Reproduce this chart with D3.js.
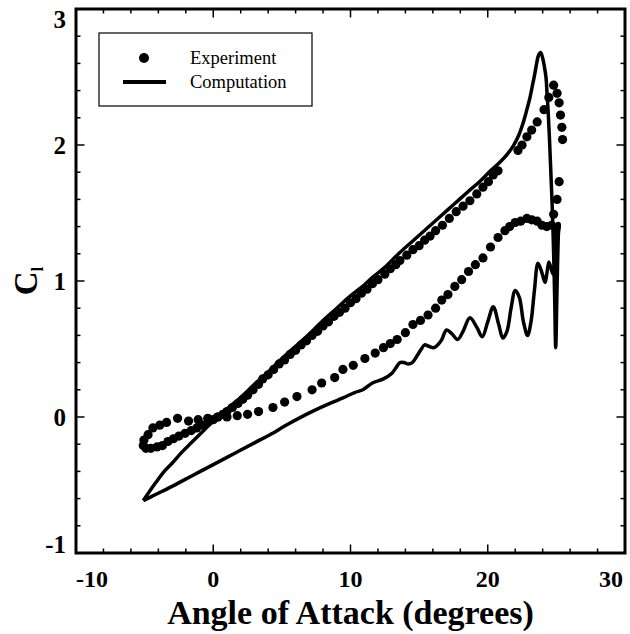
<!DOCTYPE html>
<html>
<head>
<meta charset="utf-8">
<script src="https://cdn.jsdelivr.net/npm/d3@7/dist/d3.min.js"></script>
<style>
  html, body { margin: 0; padding: 0; background: #fff; }
  svg { display: block; }
  text { font-family: "Liberation Serif", "Times New Roman", serif; fill: #000; }
</style>
</head>
<body>
<svg id="chart" width="630" height="634"></svg>
<script>
// Experimental lift coefficient, upstroke (increasing angle of attack)
const expUpAlpha = [-4.55, -4.1, -3.7, -3.3, -2.9, -2.5, -2.05, -1.6, -1.2, -0.8, -0.4, 0.0, 0.35, 0.7, 1.0, 1.4, 1.8, 2.15, 2.5, 2.9, 3.3, 3.6, 4.0, 4.4, 4.8, 5.2, 5.6, 6.0, 6.4, 6.8, 7.2, 7.6, 8.0, 8.4, 8.8, 9.2, 9.6, 10.0, 10.4, 10.8, 11.2, 11.6, 12.0, 12.5, 12.9, 13.3, 13.6, 14.1, 14.55, 15.0, 15.4, 15.8, 16.2, 16.7, 17.2, 17.7, 18.2, 18.7, 19.2, 19.65, 20.05, 20.4, 20.75, 22.2, 22.5, 22.85, 23.2, 23.6, 24.1, 24.45, 24.8];
const expUpCl    = [-0.23, -0.22, -0.21, -0.18, -0.16, -0.14, -0.12, -0.10, -0.08, -0.06, -0.04, -0.02, 0.00, 0.02, 0.04, 0.07, 0.10, 0.13, 0.16, 0.20, 0.24, 0.28, 0.31, 0.35, 0.39, 0.42, 0.46, 0.49, 0.53, 0.56, 0.60, 0.63, 0.67, 0.70, 0.74, 0.77, 0.80, 0.84, 0.87, 0.91, 0.94, 0.98, 1.01, 1.05, 1.09, 1.12, 1.15, 1.19, 1.23, 1.26, 1.30, 1.33, 1.37, 1.41, 1.46, 1.51, 1.55, 1.59, 1.64, 1.69, 1.73, 1.78, 1.81, 1.96, 2.00, 2.06, 2.11, 2.17, 2.26, 2.35, 2.44];

// Experimental lift coefficient, downstroke (decreasing angle of attack)
const expDownAlpha = [25.05, 25.2, 25.3, 25.4, 25.45, 25.2, 25.05, 24.8, 24.65, 24.3, 23.95, 23.6, 23.2, 22.85, 22.4, 22.0, 21.6, 21.25, 20.75, 20.2, 19.65, 19.1, 18.6, 18.1, 17.6, 17.1, 16.65, 16.2, 15.65, 15.1, 14.55, 14.0, 13.4, 12.9, 12.4, 11.8, 11.05, 10.2, 9.45, 8.85, 7.9, 7.2, 6.1, 5.2, 4.35, 3.3, 2.5, 1.75, 1.0, 0.3, -0.4, -1.1, -1.8, -2.6, -3.4, -3.9, -4.4, -4.75, -5.05, -5.1, -4.9];
const expDownCl    = [2.38, 2.31, 2.22, 2.13, 2.04, 1.73, 1.60, 1.49, 1.41, 1.40, 1.41, 1.44, 1.45, 1.46, 1.44, 1.43, 1.40, 1.37, 1.32, 1.25, 1.17, 1.12, 1.07, 1.01, 0.96, 0.90, 0.86, 0.80, 0.75, 0.71, 0.68, 0.62, 0.57, 0.54, 0.51, 0.47, 0.43, 0.38, 0.35, 0.29, 0.25, 0.20, 0.15, 0.11, 0.07, 0.04, 0.02, 0.01, 0.00, 0.00, -0.01, -0.02, -0.03, -0.01, -0.04, -0.06, -0.08, -0.13, -0.17, -0.21, -0.23];

// Computed lift coefficient over one pitching cycle
const compAlpha = [-5.1, -4.6, -4.1, -3.66, -3.0, -2.3, -1.6, -0.9, -0.2, 0.35, 1.0, 1.95, 3.0, 4.0, 5.0, 6.0, 7.0, 8.0, 9.0, 10.0, 11.0, 11.64, 12.5, 13.6, 14.6, 15.6, 16.6, 17.6, 18.6, 19.4, 20.2, 20.9, 21.4, 21.84, 22.25, 22.57, 22.85, 23.08, 23.3, 23.44, 23.58, 23.7, 23.85, 24.0, 24.12, 24.24, 24.32, 24.4, 24.5, 24.6, 24.7, 24.8, 24.88, 24.95, 25.05, 25.15, 25.2, 25.05, 24.95, 24.9, 24.75, 24.46, 24.3, 24.17, 23.95, 23.66, 23.4, 23.15, 22.9, 22.6, 22.3, 22.0, 21.7, 21.4, 21.1, 20.8, 20.4, 20.0, 19.6, 19.2, 18.7, 18.2, 17.8, 17.4, 17.0, 16.6, 16.1, 15.7, 15.4, 15.1, 14.85, 14.5, 14.2, 13.9, 13.6, 13.3, 13.0, 12.4, 11.6, 10.9, 10.3, 9.45, 8.5, 7.0, 5.5, 4.13, 3.0, 1.5, 0.0, -1.5, -3.0, -4.2, -5.1];
const compCl    = [-0.615, -0.54, -0.47, -0.41, -0.34, -0.26, -0.19, -0.12, -0.05, 0.00, 0.06, 0.14, 0.24, 0.33, 0.43, 0.52, 0.61, 0.71, 0.80, 0.89, 0.97, 1.03, 1.10, 1.21, 1.30, 1.39, 1.48, 1.57, 1.66, 1.73, 1.81, 1.875, 1.93, 1.99, 2.07, 2.16, 2.26, 2.35, 2.46, 2.53, 2.61, 2.66, 2.68, 2.64, 2.58, 2.50, 2.38, 2.25, 2.04, 1.79, 1.54, 1.20, 0.85, 0.51, 0.95, 1.35, 1.42, 1.42, 1.35, 1.15, 1.05, 1.14, 1.05, 0.99, 1.06, 1.13, 0.93, 0.70, 0.60, 0.70, 0.88, 0.93, 0.80, 0.63, 0.58, 0.68, 0.81, 0.70, 0.59, 0.66, 0.73, 0.63, 0.57, 0.61, 0.64, 0.56, 0.51, 0.52, 0.53, 0.49, 0.45, 0.40, 0.39, 0.40, 0.40, 0.36, 0.32, 0.28, 0.25, 0.20, 0.18, 0.14, 0.10, 0.03, -0.05, -0.13, -0.19, -0.27, -0.35, -0.43, -0.51, -0.57, -0.615];

const xMajor = [-10, 0, 10, 20, 30];
const yMajor = [-1, 0, 1, 2, 3];
const legendLabels = ["Experiment", "Computation"];

const svg = d3.select("#chart");
const plotL = 76, plotR = 625, plotT = 9, plotB = 553;

const x = d3.scaleLinear().domain([-10, 30]).range([plotL, plotR]);
const y = d3.scaleLinear().domain([-1, 3]).range([plotB, plotT]);

// inward ticks on all four sides
const xMinor = d3.range(-10, 30.001, 2).filter(v => !xMajor.includes(v));
const yMinor = d3.range(-1, 3.001, 0.2).map(v => +v.toFixed(1)).filter(v => !yMajor.includes(v));
const tickG = svg.append("g").attr("stroke", "#000").attr("stroke-width", 1.5);
function xTicks(vals, len) {
  vals.forEach(v => {
    tickG.append("line").attr("x1", x(v)).attr("x2", x(v)).attr("y1", plotB).attr("y2", plotB - len);
    tickG.append("line").attr("x1", x(v)).attr("x2", x(v)).attr("y1", plotT).attr("y2", plotT + len);
  });
}
function yTicks(vals, len) {
  vals.forEach(v => {
    tickG.append("line").attr("y1", y(v)).attr("y2", y(v)).attr("x1", plotL).attr("x2", plotL + len);
    tickG.append("line").attr("y1", y(v)).attr("y2", y(v)).attr("x1", plotR).attr("x2", plotR - len);
  });
}
xTicks(xMinor, 4.5); xTicks(xMajor, 8.5);
yTicks(yMinor, 4.5); yTicks(yMajor, 8.5);

// frame
svg.append("rect").attr("x", plotL).attr("y", plotT).attr("width", plotR - plotL).attr("height", plotB - plotT)
  .attr("fill", "none").attr("stroke", "#000").attr("stroke-width", 3);

// tick labels (end labels kept inside the frame extent)
svg.append("g").selectAll("text").data(xMajor).join("text")
  .attr("x", d => x(d) + (d === 30 ? -2 : 0))
  .attr("y", 587)
  .attr("text-anchor", d => d === -10 ? "start" : d === 30 ? "end" : "middle")
  .attr("font-size", 24).attr("font-weight", "bold")
  .text(d => d);
svg.append("g").selectAll("text").data(yMajor).join("text")
  .attr("x", 66)
  .attr("y", d => d === 3 ? y(d) + 19 : d === -1 ? y(d) : y(d) + 8.5)
  .attr("text-anchor", "end")
  .attr("font-size", 25).attr("font-weight", "bold")
  .text(d => d);

// axis titles
svg.append("text").attr("x", (plotL + plotR) / 2).attr("y", 624).attr("text-anchor", "middle")
  .attr("font-size", 34).attr("font-weight", "bold").text("Angle of Attack (degrees)");
const yt = svg.append("text").attr("transform", `translate(37,${(plotT + plotB) / 2}) rotate(-90)`)
  .attr("text-anchor", "middle").attr("font-size", 33).attr("font-weight", "bold");
yt.append("tspan").text("C");
yt.append("tspan").attr("font-size", 16).attr("dy", 6).text("l");

// computed curve
const comp = compAlpha.map((a, i) => [a, compCl[i]]);
svg.append("path").datum(comp)
  .attr("fill", "none").attr("stroke", "#000").attr("stroke-width", 3.5).attr("stroke-linejoin", "round")
  .attr("d", d3.line().x(d => x(d[0])).y(d => y(d[1])).curve(d3.curveCatmullRom.alpha(0.5)));

// experimental points
const exp = expUpAlpha.map((a, i) => [a, expUpCl[i]])
  .concat(expDownAlpha.map((a, i) => [a, expDownCl[i]]));
svg.append("g").selectAll("circle").data(exp).join("circle")
  .attr("cx", d => x(d[0])).attr("cy", d => y(d[1])).attr("r", 4.6).attr("fill", "#000");

// legend
const lg = svg.append("g");
lg.append("rect").attr("x", 99).attr("y", 33).attr("width", 213).attr("height", 73)
  .attr("fill", "#fff").attr("stroke", "#000").attr("stroke-width", 1.2);
lg.append("circle").attr("cx", 144).attr("cy", 58).attr("r", 5).attr("fill", "#000");
lg.append("line").attr("x1", 123).attr("x2", 166).attr("y1", 82).attr("y2", 82)
  .attr("stroke", "#000").attr("stroke-width", 4);
lg.selectAll("text.lab").data(legendLabels).join("text").attr("class", "lab")
  .attr("x", 190).attr("y", (d, i) => 64 + i * 24)
  .attr("font-size", 18.5).text(d => d);
</script>
</body>
</html>
